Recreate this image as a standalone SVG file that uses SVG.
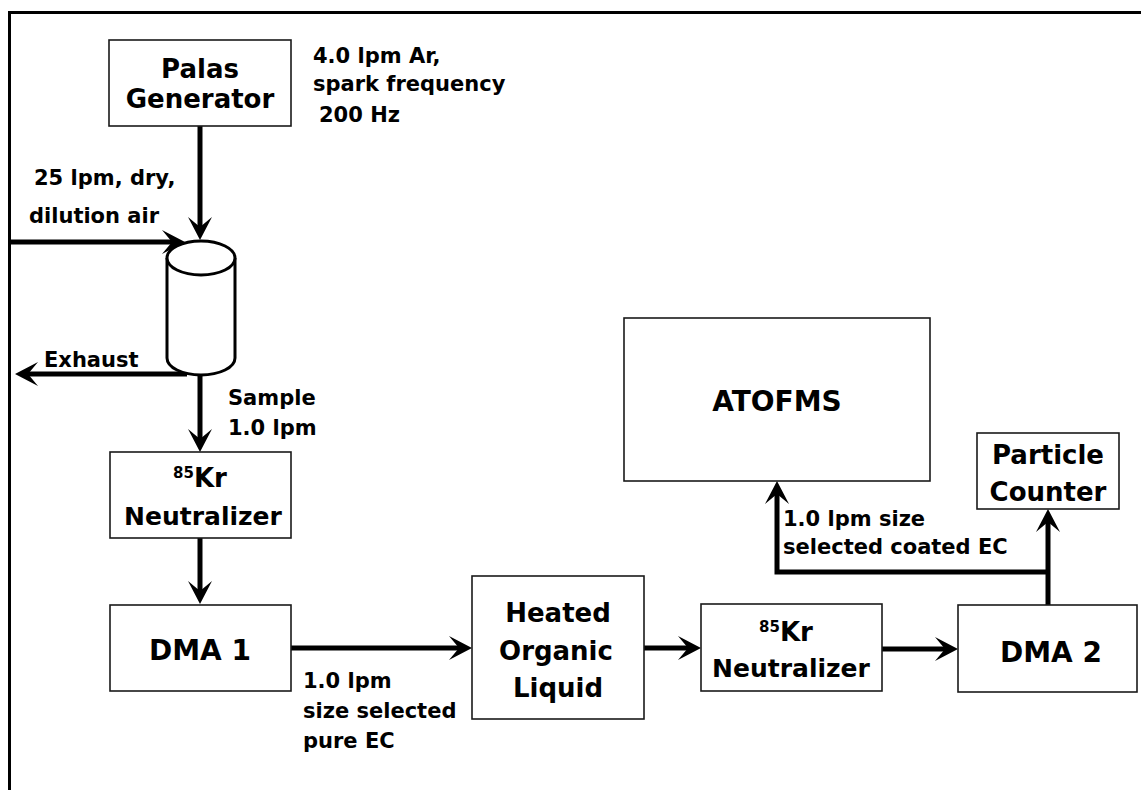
<svg xmlns="http://www.w3.org/2000/svg" width="1141" height="790" viewBox="0 0 1141 790">
<defs>
<style>
.box{fill:#fff;stroke:#1a1a1a;stroke-width:1.6}
.t{font-family:"DejaVu Sans","Liberation Sans",Arial,sans-serif;font-weight:bold;fill:#000}
.lbl{font-size:21px}
.c{text-anchor:middle}
.ln{fill:none;stroke:#000;stroke-width:5}
</style>
<marker id="ah" viewBox="-12 -13 27 26" refX="0" refY="0" markerWidth="27" markerHeight="26" markerUnits="userSpaceOnUse" orient="auto">
<path d="M13,0 L-10,-12 L0,0 L-10,12 Z" fill="#000"/>
</marker>
</defs>
<rect width="1141" height="790" fill="#fff"/>
<g id="frame">
<path d="M9.5,790 V12.5 H1141" fill="none" stroke="#000" stroke-width="3"/>
</g>
<g id="connectors">
<path class="ln" d="M200,126 V227" marker-end="url(#ah)"/>
<path class="ln" d="M11,242 H172" marker-end="url(#ah)"/>
<path class="ln" d="M187,374 H28" marker-end="url(#ah)"/>
<path class="ln" d="M200,375 V439" marker-end="url(#ah)"/>
<path class="ln" d="M200,538 V591" marker-end="url(#ah)"/>
<path class="ln" d="M291,648 H459" marker-end="url(#ah)"/>
<path class="ln" d="M644,648 H688" marker-end="url(#ah)"/>
<path class="ln" d="M882,649 H945" marker-end="url(#ah)"/>
<path class="ln" d="M1048,605 V522" marker-end="url(#ah)"/>
<path class="ln" d="M1048,572 H777 V494" marker-end="url(#ah)"/>
</g>
<g id="palas">
<rect class="box" x="109" y="40" width="182" height="86"/>
<text class="t c" x="200" y="78" font-size="26">Palas</text>
<text class="t c" x="200" y="108" font-size="26">Generator</text>
</g>
<g id="mixer">
<path d="M167,258 V358 A34,17 0 0 0 235,358 V258" fill="#fff" stroke="#000" stroke-width="3"/>
<ellipse cx="201" cy="258" rx="34" ry="17" fill="#fff" stroke="#000" stroke-width="3"/>
</g>
<g id="neutralizer1">
<rect class="box" x="110" y="452" width="181" height="86"/>
<text class="t c" x="200" y="487"><tspan font-size="15" dy="-9">85</tspan><tspan font-size="26" dy="9">Kr</tspan></text>
<text class="t c" x="203" y="525" font-size="25">Neutralizer</text>
</g>
<g id="dma1">
<rect class="box" x="110" y="605" width="181" height="86"/>
<text class="t c" x="200" y="660" font-size="28">DMA 1</text>
</g>
<g id="heated">
<rect class="box" x="472" y="576" width="172" height="143"/>
<text class="t c" x="558" y="622" font-size="26">Heated</text>
<text class="t c" x="556" y="660" font-size="26">Organic</text>
<text class="t c" x="558" y="697" font-size="26">Liquid</text>
</g>
<g id="neutralizer2">
<rect class="box" x="701" y="604" width="181" height="87"/>
<text class="t c" x="786" y="641"><tspan font-size="15" dy="-9">85</tspan><tspan font-size="26" dy="9">Kr</tspan></text>
<text class="t c" x="791" y="677" font-size="25">Neutralizer</text>
</g>
<g id="dma2">
<rect class="box" x="958" y="605" width="179" height="87"/>
<text class="t c" x="1051" y="662" font-size="28">DMA 2</text>
</g>
<g id="atofms">
<rect class="box" x="624" y="318" width="306" height="163"/>
<text class="t c" x="777" y="411" font-size="28">ATOFMS</text>
</g>
<g id="counter">
<rect class="box" x="977" y="433" width="142" height="76"/>
<text class="t c" x="1048" y="464" font-size="26">Particle</text>
<text class="t c" x="1048" y="501" font-size="26">Counter</text>
</g>
<g id="labels">
<text class="t lbl" x="313" y="63">4.0 lpm Ar,</text>
<text class="t lbl" x="313" y="91">spark frequency</text>
<text class="t lbl" x="319" y="122">200 Hz</text>
<text class="t lbl" x="34" y="185">25 lpm, dry,</text>
<text class="t lbl" x="29" y="223">dilution air</text>
<text class="t lbl" x="44" y="367">Exhaust</text>
<text class="t lbl" x="228" y="405">Sample</text>
<text class="t lbl" x="228" y="435">1.0 lpm</text>
<text class="t lbl" x="303" y="688">1.0 lpm</text>
<text class="t lbl" x="303" y="718">size selected</text>
<text class="t lbl" x="303" y="748">pure EC</text>
<text class="t lbl" x="783" y="526">1.0 lpm size</text>
<text class="t lbl" x="783" y="554">selected coated EC</text>
</g>
</svg>
